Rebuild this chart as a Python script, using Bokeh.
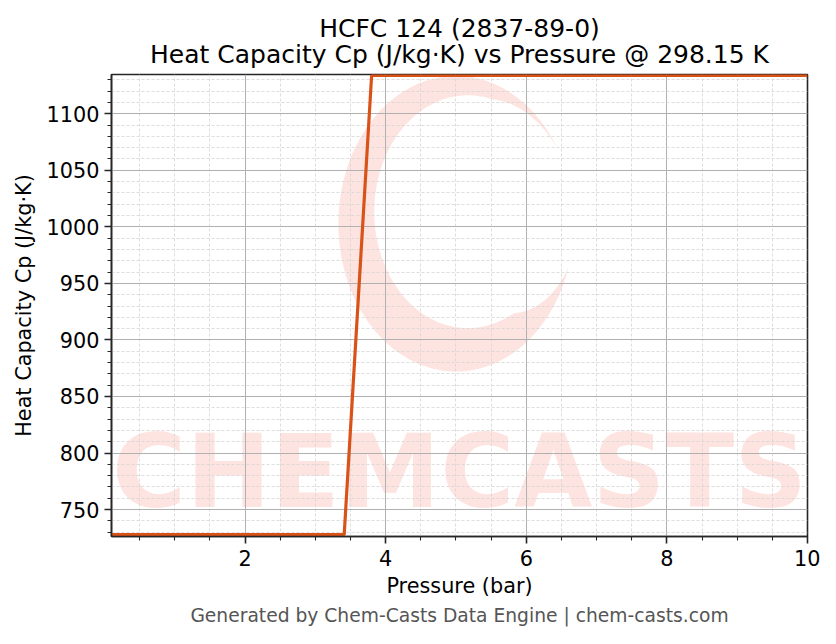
import numpy as np
from bokeh.plotting import figure
from bokeh.models import Range1d, FixedTicker, Title
from bokeh.core.properties import value
from bokeh.embed import file_html
from bokeh.resources import INLINE

# ---- data ----
pressure_bar = [0.1, 3.41, 3.80, 10.0]
cp_j_kgk = [727.9, 727.9, 1133.8, 1133.8]
x_limits = [0.1, 10.0]
y_limits = [726.2, 1134.7]
x_major = [2, 4, 6, 8, 10]
x_minor = [0.5, 1.0, 1.5, 2.5, 3.0, 3.5, 4.5, 5.0, 5.5, 6.5, 7.0, 7.5, 8.5, 9.0, 9.5]
y_major = [750, 800, 850, 900, 950, 1000, 1050, 1100]
y_minor = [v for v in range(730, 1135, 10) if v % 50 != 0]

title_line1 = "HCFC 124 (2837-89-0)"
title_line2 = "Heat Capacity Cp (J/kg·K) vs Pressure @ 298.15 K"
x_label = "Pressure (bar)"
y_label = "Heat Capacity Cp (J/kg·K)"
footer_text = "Generated by Chem-Casts Data Engine | chem-casts.com"
watermark_text = "CHEMCASTS"

FONT = "DejaVu Sans"
LINE_COLOR = "#D95319"
WM_COLOR = "#fde4e0"

p = figure(width=820, height=628, output_backend="svg", toolbar_location=None,
           x_range=Range1d(*x_limits), y_range=Range1d(*y_limits),
           min_border_left=111, min_border_right=13, min_border_top=74, min_border_bottom=92)

# two-line title, each line centred
p.title.text = title_line1 + "\n" + title_line2
p.title.align = "center"
if "text_align" in p.title.properties():
    p.title.text_align = "center"
p.title.text_font = FONT
p.title.text_font_size = "25px"
p.title.text_font_style = "normal"
p.title.text_color = "black"
p.title.text_line_height = 0.92
p.title.standoff = 10

# footer
p.add_layout(Title(text=footer_text, align="center", text_font=FONT, text_font_size="18.7px",
                   text_font_style="normal", text_color="#555555", standoff=5), "below")

# ---- watermark (decoration, in frame fractions converted to data) ----
def fx(f):
    return x_limits[0] + f * (x_limits[1] - x_limits[0])

def fy(f):
    return y_limits[0] + f * (y_limits[1] - y_limits[0])

n = 160
t_out = np.radians(np.linspace(31, 343, n))
s = np.linspace(0, 1, n)
taper = np.clip(np.minimum(s, 1 - s) / 0.14, 0, 1)
cxo, cyo, rxo, ryo = 0.495, 0.677, 0.169, 0.320
cxi, cyi, rxi, ryi = 0.512, 0.703, 0.1345, 0.252
ox = cxo + rxo * np.cos(t_out)
oy = cyo + ryo * np.sin(t_out)
ix_ = (cxi + rxi * np.cos(t_out)) * taper + ox * (1 - taper)
iy_ = (cyi + ryi * np.sin(t_out)) * taper + oy * (1 - taper)
px = [fx(v) for v in np.concatenate([ox, ix_[::-1]])]
py = [fy(v) for v in np.concatenate([oy, iy_[::-1]])]
p.patch(px, py, fill_color=WM_COLOR, line_color=None, level="image")

p.text(x=[fx(0.5)], y=[fy(0.14)], text=[watermark_text], text_font=value(FONT),
       text_font_style="bold", text_font_size="101px", text_color=WM_COLOR,
       text_align="center", text_baseline="middle", level="image")

# ---- data line ----
p.line(pressure_bar, cp_j_kgk, line_color=LINE_COLOR, line_width=3.2)

# ---- axes ----
p.xaxis.ticker = FixedTicker(ticks=x_major, minor_ticks=x_minor)
p.yaxis.ticker = FixedTicker(ticks=y_major, minor_ticks=y_minor)
for ax in (p.xaxis[0], p.yaxis[0]):
    ax.major_label_text_font = FONT
    ax.major_label_text_font_size = "20.8px"
    ax.major_label_text_color = "black"
    ax.axis_label_text_font = FONT
    ax.axis_label_text_font_size = "20.8px"
    ax.axis_label_text_font_style = "normal"
    ax.axis_label_text_color = "black"
    ax.axis_line_color = "#262626"
    ax.axis_line_width = 1.6
    ax.major_tick_line_color = "#262626"
    ax.major_tick_line_width = 1.6
    ax.major_tick_out = 7
    ax.major_tick_in = 0
    ax.minor_tick_line_color = "#262626"
    ax.minor_tick_line_width = 1.1
    ax.minor_tick_out = 4
    ax.minor_tick_in = 0
    ax.major_label_standoff = 5
    ax.axis_label_standoff = 8
p.xaxis.axis_label = x_label
p.yaxis.axis_label = y_label
p.xaxis.major_label_standoff = 6
p.xaxis.axis_label_standoff = 5

p.outline_line_color = "#262626"
p.outline_line_width = 1.6

for g in (p.xgrid[0], p.ygrid[0]):
    g.grid_line_color = "#b0b0b0"
    g.grid_line_width = 1.0
    g.minor_grid_line_color = "#d4d4d4"
    g.minor_grid_line_width = 0.8
    g.minor_grid_line_dash = "3 2"

p.background_fill_color = "white"
p.border_fill_color = "white"

open("out.html", "w").write(file_html(p, INLINE))
